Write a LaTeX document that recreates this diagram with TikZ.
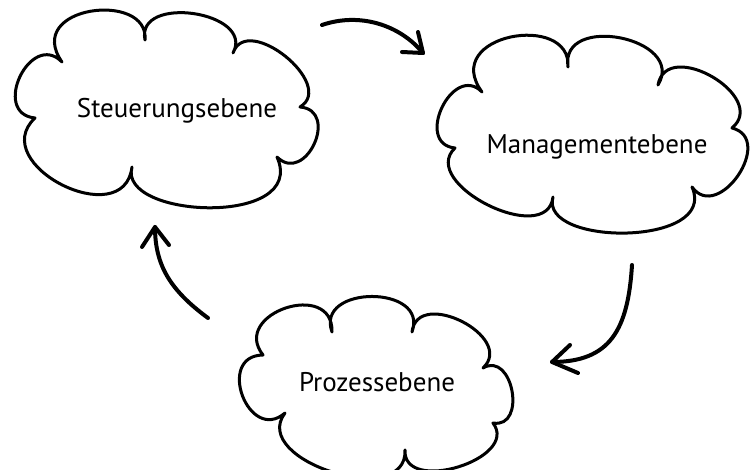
\documentclass[tikz,border=0pt]{standalone}
\usepackage{fontspec}
\setmainfont{PT Sans}
\usetikzlibrary{calc}
\tikzset{
  lobe/.style n args={4}{insert path={.. controls ($(#1)!#3!110:(#2)$) and ($(#2)!#4!-110:(#1)$) .. (#2)}},
  cloudline/.style={line width=3pt, line join=round, line cap=round},
  arrowline/.style={line width=4pt, line cap=round, line join=round},
  lbl/.style={font=\fontsize{27}{32}\selectfont, inner sep=0pt, anchor=base},
}
\begin{document}
\begin{tikzpicture}[x=1pt,y=-1pt]
\useasboundingbox (0,0) rectangle (756,470);
% ---------- cloud: Steuerungsebene
\coordinate (s1) at (62,62);
\coordinate (s2) at (145,40);
\coordinate (s3) at (233,53);
\coordinate (s4) at (300,107);
\coordinate (s5) at (277,157);
\coordinate (s6) at (132,167);
\coordinate (s7) at (35,118);
\draw[cloudline] (s1) [lobe={s1}{s2}{0.8}{0.58}] [lobe={s2}{s3}{0.53}{0.53}]
  [lobe={s3}{s4}{0.5}{0.5}] [lobe={s4}{s5}{0.73}{0.73}] [lobe={s5}{s6}{0.53}{0.37}]
  [lobe={s6}{s7}{0.62}{0.62}] [lobe={s7}{s1}{0.72}{0.72}] -- cycle;
\node[lbl] (st) at (177,118) {Steuerungsebene};
% ---------- cloud: Managementebene
\coordinate (m1) at (482,92);
\coordinate (m2) at (568,67);
\coordinate (m3) at (658,85);
\coordinate (m4) at (732,128);
\coordinate (m5) at (692,187);
\coordinate (m6) at (553,197);
\coordinate (m7) at (455,148);
\draw[cloudline] (m1) [lobe={m1}{m2}{0.8}{0.62}] [lobe={m2}{m3}{0.6}{0.6}]
  [lobe={m3}{m4}{0.57}{0.57}] [lobe={m4}{m5}{0.63}{0.63}] [lobe={m5}{m6}{0.47}{0.37}]
  [lobe={m6}{m7}{0.47}{0.47}] [lobe={m7}{m1}{0.67}{0.67}] -- cycle;
\node[lbl] (mg) at (597,154) {Managementebene};
% ---------- cloud: Prozessebene
\coordinate (p1) at (263,355);
\coordinate (p2) at (332,332);
\coordinate (p3) at (412,332);
\coordinate (p4) at (483,368);
\coordinate (p5) at (493,423);
\coordinate (p6) at (405,450);
\coordinate (p7) at (285,413);
\draw[cloudline] (p1) [lobe={p1}{p2}{0.73}{0.73}] [lobe={p2}{p3}{0.63}{0.63}]
  [lobe={p3}{p4}{0.57}{0.57}] [lobe={p4}{p5}{0.62}{0.62}] [lobe={p5}{p6}{0.49}{0.49}]
  [lobe={p6}{p7}{0.48}{0.48}] [lobe={p7}{p1}{0.77}{0.77}] -- cycle;
\node[lbl] (pz) at (377,392) {Prozessebene};
% ---------- arrows
\coordinate (a1s) at (322,25);
\coordinate (a1t) at (423,53);
\coordinate (a1b) at (418,32);
\coordinate (a1c) at (402,52);
\draw[arrowline] (a1s) .. controls (360,12) and (400,25) .. (a1t);
\draw[arrowline] (a1b) -- (a1t) -- (a1c);
\coordinate (a2s) at (632,265);
\coordinate (a2t) at (552,362);
\coordinate (a2b) at (570,345);
\coordinate (a2c) at (578,373);
\draw[arrowline] (a2s) .. controls (628,330) and (610,362) .. (a2t);
\draw[arrowline] (a2b) -- (a2t) -- (a2c);
\coordinate (a3s) at (208,318);
\coordinate (a3t) at (155,227);
\coordinate (a3b) at (142,247);
\coordinate (a3c) at (169,245);
\draw[arrowline] (a3s) .. controls (170,290) and (155,265) .. (a3t);
\draw[arrowline] (a3b) -- (a3t) -- (a3c);
\end{tikzpicture}
\end{document}
